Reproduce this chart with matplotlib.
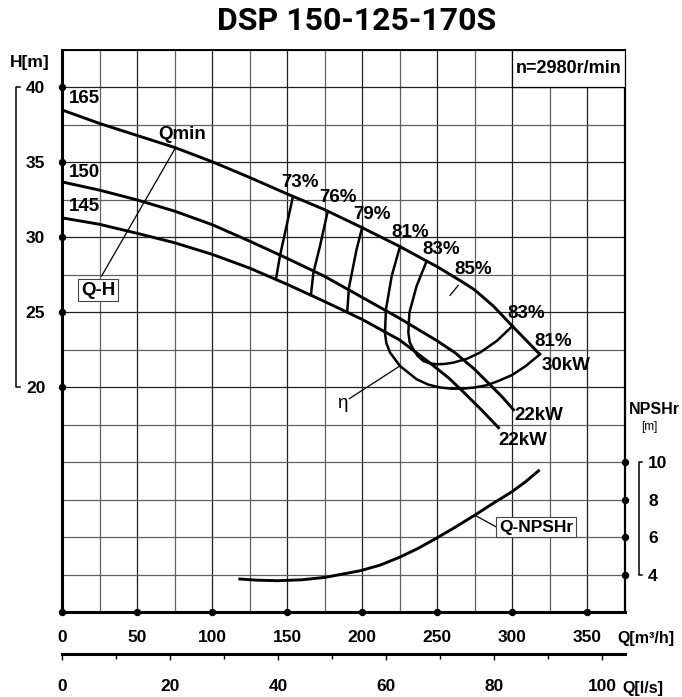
import numpy as np
import matplotlib
matplotlib.use("Agg")
import matplotlib.pyplot as plt
from matplotlib.patches import Rectangle

plt.rcParams['font.family'] = ['Liberation Sans', 'DejaVu Sans']
plt.rcParams['font.weight'] = 'bold'

# axis ticks
q_ticks = [0, 50, 100, 150, 200, 250, 300, 350]          # Q [m3/h]
h_ticks = [20, 25, 30, 35, 40]                            # H [m]
npsh_ticks = [4, 6, 8, 10]                                # NPSHr [m]
ls_ticks = [0, 20, 40, 60, 80, 100]                       # Q [l/s]
ls_minor = [10, 30, 50, 70, 90]

# Q-H curves, impeller 165 / 150 / 145
q_165 = [0, 25, 50, 75, 100, 125, 150, 175, 200, 225, 243, 250, 267.6, 275, 287.5, 300, 318]
h_165 = [38.5, 37.6, 36.8, 36.0, 35.05, 34.0, 32.9, 31.85, 30.65, 29.4, 28.42, 28.05, 26.98,
         26.5, 25.42, 24.1, 22.25]
q_150 = [0, 25, 50, 75, 100, 125, 150, 175, 200, 225, 250, 262, 275, 285, 293, 301]
h_150 = [33.7, 33.15, 32.5, 31.75, 30.85, 29.75, 28.6, 27.4, 26.0, 24.6, 23.1, 22.3, 21.2,
         20.2, 19.4, 18.5]
q_145 = [0, 25, 50, 75, 100, 125, 150, 175, 200, 225, 245, 258, 268, 280, 291]
h_145 = [31.3, 30.87, 30.27, 29.64, 28.87, 27.95, 26.87, 25.72, 24.53, 23.16, 21.64, 20.6,
         19.64, 18.45, 17.3]

# iso-efficiency lines
q_73 = [153.8, 148.7, 145.3, 142.7]
h_73 = [32.64, 30.31, 28.76, 27.24]
q_76 = [177.1, 172.0, 167.6, 166.0]
h_76 = [31.71, 29.42, 27.64, 26.2]
q_79 = [200.2, 196.4, 191.3, 190.2]
h_79 = [30.69, 29.2, 26.64, 25.09]
q_81 = [225.3, 219.8, 216.0, 215.3, 216.2, 218.7, 225.3, 236.4, 244, 252.0, 260, 267.6, 275,
        283.1, 291, 299.8, 309, 318.7]
h_81 = [29.38, 27.42, 25.2, 23.64, 22.95, 22.31, 21.42, 20.53, 20.18, 19.98, 19.9, 19.91, 19.98,
        20.13, 20.42, 20.8, 21.4, 22.2]
q_83 = [243.1, 236.4, 231.6, 230.9, 231.8, 234.2, 237, 240.9, 245, 249.8, 255, 260.9, 270,
        278.7, 290, 300.4]
h_83 = [28.42, 26.75, 24.98, 23.64, 23.0, 22.53, 22.1, 21.75, 21.6, 21.53, 21.55, 21.64, 21.9,
        22.31, 23.1, 24.09]

# Q-NPSHr
q_npsh = [118.5, 130, 143.7, 160, 175.5, 198.7, 212, 224.7, 237, 249.2, 262, 275.2, 287,
          299.8, 309, 317.7]
npsh = [3.76, 3.7, 3.67, 3.72, 3.85, 4.2, 4.5, 4.91, 5.38, 5.92, 6.52, 7.17, 7.78, 8.41,
        8.95, 9.54]

W, Hpx = 682, 697
fig = plt.figure(figsize=(W / 100, Hpx / 100), dpi=100)
L, B, R, T = 62, 612, 624.5, 50
ax = fig.add_axes([L / W, 1 - B / Hpx, (R - L) / W, (B - T) / Hpx])
ax.set_xlim(0, 375)
ax.set_ylim(5, 42.5)

ax.set_xticks(q_ticks)
ax.set_xticks(np.arange(0, 376, 25), minor=True)
ax.set_yticks(h_ticks)
ax.set_yticks(np.arange(5, 42.6, 2.5), minor=True)
ax.grid(which='minor', color='#606060', lw=0.9)
ax.grid(which='major', color='#202020', lw=0.9)
ax.tick_params(which='both', length=0, labelsize=12.5)
ax.tick_params(axis='x', pad=13)
ax.tick_params(axis='y', pad=12)
for s, lw in [('left', 2.2), ('bottom', 2.2), ('right', 1.6), ('top', 1.4)]:
    ax.spines[s].set_linewidth(lw)

# dots on axes
ax.plot(q_ticks, [5] * len(q_ticks), 'o', color='k', ms=4.3, clip_on=False, zorder=6)
ax.plot([0] * len(h_ticks), h_ticks, 'o', color='k', ms=4.3, clip_on=False, zorder=6)

# left bracket
tr = ax.get_yaxis_transform()
ax.plot([-0.0747, -0.0818, -0.0818, -0.0747], [40, 40, 20, 20], color='k', lw=1.1,
        transform=tr, clip_on=False)

# curves
for qq, hh in [(q_165, h_165), (q_150, h_150), (q_145, h_145)]:
    ax.plot(qq, hh, color='k', lw=2.1, solid_joinstyle='round', zorder=4)
for qq, hh in [(q_73, h_73), (q_76, h_76), (q_79, h_79), (q_81, h_81), (q_83, h_83)]:
    ax.plot(qq, hh, color='k', lw=1.8, solid_joinstyle='round', zorder=4)

fs = 13.5
ax.text(4.7, 39.27, '165', fontsize=fs, ha='left', va='center')
ax.text(4.7, 34.33, '150', fontsize=fs, ha='left', va='center')
ax.text(4.7, 32.07, '145', fontsize=fs, ha='left', va='center')
ax.text(158.7, 33.67, '73%', fontsize=fs, ha='center', va='center')
ax.text(183.7, 32.67, '76%', fontsize=fs, ha='center', va='center')
ax.text(207.0, 31.53, '79%', fontsize=fs, ha='center', va='center')
ax.text(232.0, 30.33, '81%', fontsize=fs, ha='center', va='center')
ax.text(253.1, 29.2, '83%', fontsize=fs, ha='center', va='center')
ax.text(274.0, 27.87, '85%', fontsize=fs, ha='center', va='center')
ax.text(309.3, 24.93, '83%', fontsize=fs, ha='center', va='center')
ax.text(327.3, 23.03, '81%', fontsize=fs, ha='center', va='center')
ax.text(336.0, 21.47, '30kW', fontsize=fs, ha='center', va='center')
ax.text(318.0, 18.13, '22kW', fontsize=fs, ha='center', va='center')
ax.text(307.0, 16.42, '22kW', fontsize=fs, ha='center', va='center')
ax.text(187.0, 18.93, 'η', fontsize=fs, ha='center', va='center', weight='normal')
ax.text(80.3, 36.87, 'Qmin', fontsize=fs, ha='center', va='center')

# leader lines
ax.plot([264.2, 258.7], [26.8, 26.13], color='k', lw=0.9)
ax.plot([191.6, 225.3], [19.24, 21.42], color='k', lw=0.9)
ax.plot([75.3, 26.4], [35.91, 27.42], color='k', lw=0.9)

ax.text(24.2, 26.48, 'Q-H', fontsize=fs, ha='center', va='center', zorder=7,
        bbox=dict(boxstyle='square,pad=0.15', fc='white', ec='#444444', lw=0.8))

ax.add_patch(Rectangle((300, 40), 75, 2.5, fc='white', ec='k', lw=0.9, zorder=3))
ax.text(337.5, 41.25, 'n=2980r/min', fontsize=13, ha='center', va='center', zorder=4)

# NPSHr on a twin axis
ax2 = ax.twinx()
ax2.set_ylim(2, 32)
ax2.set_yticks(npsh_ticks)
ax2.tick_params(length=0, pad=17, labelsize=12.5)
for s in ax2.spines.values():
    s.set_visible(False)
ax2.plot(q_npsh, npsh, color='k', lw=2.1, solid_joinstyle='round')
ax2.plot([375] * len(npsh_ticks), npsh_ticks, 'o', color='k', ms=4.3, clip_on=False, zorder=6)
tr2 = ax2.get_yaxis_transform()
ax2.plot([1.031, 1.0263, 1.0263, 1.031], [10, 10, 4, 4], color='k', lw=1.1,
         transform=tr2, clip_on=False)
ax2.plot([275.2, 292], [7.17, 6.43], color='k', lw=0.9)
ax2.text(316, 6.53, 'Q-NPSHr', fontsize=12.5, ha='center', va='center', zorder=7,
         bbox=dict(boxstyle='square,pad=0.15', fc='white', ec='#444444', lw=0.8))

# Q [l/s] axis
ax3 = fig.add_axes([L / W, 1 - 654 / Hpx, (R - L) / W, 0.0005])
ax3.set_xlim(0, 375 / 3.6)
ax3.set_xticks(ls_ticks)
ax3.set_xticks(ls_minor, minor=True)
ax3.set_yticks([])
ax3.patch.set_visible(False)
for s in ['left', 'right', 'top']:
    ax3.spines[s].set_visible(False)
ax3.spines['bottom'].set_linewidth(2.2)
ax3.tick_params(axis='x', which='major', direction='out', length=4, width=1, pad=14, labelsize=12.5)
ax3.tick_params(axis='x', which='minor', direction='out', length=3.5, width=1)

# axis titles
fig.text(30 / W, 1 - 62 / Hpx, 'H[m]', fontsize=12.5, ha='center', va='center')
fig.text(654 / W, 1 - 410 / Hpx, 'NPSHr', fontsize=11.5, ha='center', va='center')
fig.text(649 / W, 1 - 427 / Hpx, '[m]', fontsize=8.5, ha='center', va='center', weight='normal')
fig.text(646 / W, 1 - 638 / Hpx, 'Q[m³/h]', fontsize=11.5, ha='center', va='center')
fig.text(643 / W, 1 - 688 / Hpx, 'Q[l/s]', fontsize=11.5, ha='center', va='center')
fig.text(357 / W, 1 - 21 / Hpx, 'DSP 150-125-170S', fontsize=23, ha='center', va='center',
         family=['Roboto', 'DejaVu Sans'], weight='bold')

fig.savefig('out.png', dpi=100)
